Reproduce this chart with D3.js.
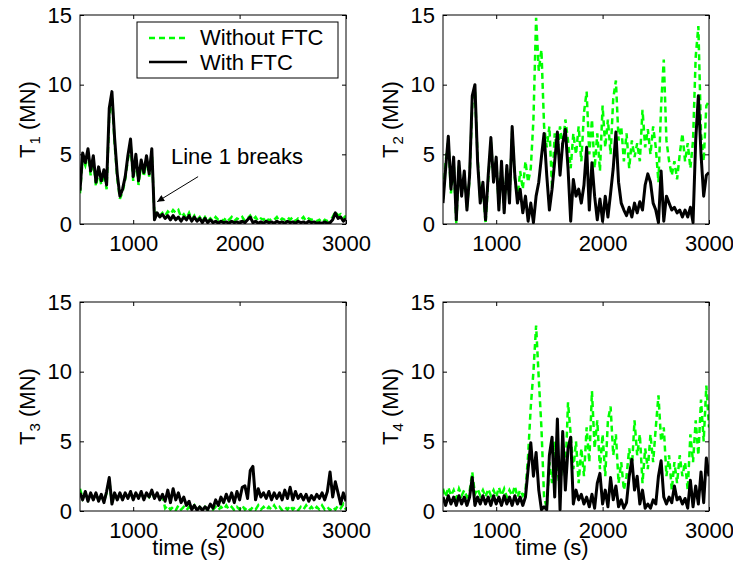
<!DOCTYPE html>
<html>
<head>
<meta charset="utf-8">
<script src="https://cdn.jsdelivr.net/npm/d3@7"></script>
<style>
  body { margin: 0; background: #fff; }
  text { font-family: "Liberation Sans", Arial, Helvetica, sans-serif; fill: #000; }
</style>
</head>
<body>
<div id="chart"></div>
<script>
// sample times (s)
const time = [500,525,550,575,600,625,650,675,700,725,750,775,800,825,850,875,900,925,950,975,
  1000,1025,1050,1075,1100,1125,1150,1175,1200,1225,1250,1275,1300,1325,1350,1375,1400,1425,1450,1475,
  1500,1525,1550,1575,1600,1625,1650,1675,1700,1725,1750,1775,1800,1825,1850,1875,1900,1925,1950,1975,
  2000,2025,2050,2075,2100,2125,2150,2175,2200,2225,2250,2275,2300,2325,2350,2375,2400,2425,2450,2475,
  2500,2525,2550,2575,2600,2625,2650,2675,2700,2725,2750,2775,2800,2825,2850,2875,2900,2925,2950,2975,3000]

const xTicks = [1000, 2000, 3000]
const yTicks = [0, 5, 10, 15]

// T1
const t1Without = [2.2,4.7,4.2,5.0,3.5,4.6,2.7,3.8,2.8,3.6,2.5,7.8,9.2,5.8,3.3,1.8,2.3,3.2,4.6,5.8,
  3.1,4.7,2.8,4.3,3.4,4.6,3.4,5.1,0.5,0.9,0.6,0.8,0.6,0.9,0.7,1.0,0.8,1.0,0.5,0.7,
  0.4,0.8,0.3,0.6,0.3,0.5,0.2,0.5,0.2,0.4,0.2,0.5,0.3,0.4,0.2,0.5,0.3,0.5,0.2,0.4,
  0.3,0.5,0.2,0.4,0.6,0.3,0.5,0.2,0.4,0.3,0.5,0.2,0.4,0.3,0.5,0.2,0.4,0.3,0.5,0.3,
  0.5,0.2,0.4,0.3,0.5,0.2,0.4,0.3,0.4,0.2,0.3,0.1,0.3,0.2,0.3,0.5,0.9,0.6,0.7,0.4,0.6]
const t1With = [2.4,5.1,4.4,5.4,3.8,4.9,3.0,4.1,3.1,3.9,2.8,8.3,9.5,6.2,3.6,2.0,2.5,3.4,4.9,6.1,
  3.4,5.0,3.1,4.6,3.7,4.9,3.6,5.4,0.3,0.8,0.5,0.7,0.4,0.6,0.3,0.6,0.3,0.5,0.2,0.5,
  0.3,0.6,0.2,0.5,0.2,0.4,0.1,0.4,0.1,0.3,0.1,0.2,0.05,0.2,0.1,0.15,0.05,0.2,0.1,0.15,
  0.05,0.2,0.1,0.3,0.5,0.1,0.2,0.05,0.15,0.05,0.2,0.1,0.15,0.05,0.2,0.1,0.15,0.05,0.2,0.1,
  0.15,0.05,0.2,0.1,0.15,0.05,0.2,0.1,0.15,0.05,0.1,0.05,0.15,0.05,0.1,0.3,0.8,0.4,0.5,0.2,0.4]

// T2
const t2Without = [1.8,4.5,6.0,2.2,4.5,0.0,4.2,2.3,3.5,1.2,3.2,8.6,9.6,4.8,1.8,2.7,0.0,3.2,5.9,3.3,
  4.5,1.3,4.2,1.0,4.0,1.8,6.7,3.3,1.8,3.8,2.5,4.5,3.0,4.0,7.5,14.8,11.0,12.5,7.0,5.5,
  7.0,2.5,6.5,5.0,7.0,5.5,7.5,6.0,4.0,6.5,5.0,7.0,4.5,8.0,9.5,5.0,7.5,4.0,6.5,3.8,
  8.5,5.5,7.5,5.0,9.0,10.3,6.0,7.0,4.5,6.5,4.0,6.0,4.8,5.8,4.5,8.2,5.5,6.8,5.0,7.0,
  5.5,3.0,8.5,11.8,6.0,4.5,3.5,4.5,3.2,5.0,6.5,4.5,5.8,4.0,6.0,12.0,14.2,6.5,4.5,8.5,8.8]
const t2With = [1.5,4.0,6.3,2.5,4.8,0.3,4.5,2.0,3.8,1.0,3.5,9.2,10.0,4.5,1.5,3.0,0.3,3.5,6.2,3.0,
  4.8,1.0,4.5,0.8,4.2,1.5,7.0,3.5,1.5,2.5,0.8,2.0,0.2,1.5,0.1,2.0,3.0,4.8,6.5,3.5,
  1.0,2.5,4.5,6.6,3.5,5.8,6.8,4.0,0.2,3.2,2.0,2.5,1.5,2.8,5.5,1.0,4.4,2.0,0.3,1.8,
  0.2,2.0,0.5,2.2,4.0,6.6,3.0,1.5,1.0,0.6,1.2,0.5,1.5,0.8,1.6,1.0,2.8,3.6,3.0,1.5,
  1.0,0.1,3.8,0.2,2.0,1.5,1.0,1.2,0.8,1.0,0.5,1.0,0.5,1.2,0.1,6.0,9.2,5.0,2.0,3.5,3.7]

// T3
const t3Without = [1.6,0.9,1.3,0.8,1.2,0.9,1.2,0.8,1.1,0.7,1.3,2.2,0.6,1.2,0.9,1.2,0.9,1.2,1.0,1.3,
  0.9,1.2,1.0,1.3,0.9,1.2,1.0,1.4,0.9,1.2,0.9,1.1,0.2,0.4,0.1,0.3,0.05,0.4,0.1,0.3,
  0.05,0.3,0.1,0.4,0.05,0.3,0.1,0.3,0.05,0.2,0.1,0.3,0.05,0.3,0.1,0.4,0.1,0.3,0.05,0.3,
  0.1,0.4,0.1,0.3,0.05,0.3,0.1,0.4,0.1,0.3,0.05,0.3,0.1,0.4,0.1,0.3,0.05,0.3,0.1,0.4,
  0.1,0.3,0.05,0.3,0.1,0.4,0.1,0.3,0.05,0.3,0.1,0.4,0.1,0.3,0.05,0.3,0.1,0.4,0.2,0.5,0.1]
const t3With = [1.3,0.8,1.4,0.7,1.3,0.8,1.3,0.7,1.2,0.6,1.4,2.4,0.5,1.3,0.8,1.3,0.8,1.3,0.9,1.4,
  0.8,1.3,0.9,1.4,0.8,1.3,1.0,1.5,0.9,1.3,0.8,1.2,0.7,1.5,0.6,1.6,0.8,1.3,0.6,1.0,
  0.4,0.7,0.1,0.4,0.05,0.3,0.05,0.3,0.1,0.5,0.2,0.8,0.4,1.0,0.6,1.2,0.7,1.3,0.6,1.4,
  0.8,1.7,1.8,0.9,2.9,3.2,0.8,1.6,1.0,1.3,0.9,1.4,0.8,1.3,0.9,1.3,0.8,1.5,0.9,1.7,
  0.8,1.4,0.9,1.2,0.8,1.2,0.7,1.1,0.8,1.2,0.9,1.3,0.8,1.4,2.8,1.0,2.1,1.3,0.5,1.3,0.7]

// T4
const t4Without = [1.6,1.0,1.7,1.1,1.5,0.9,1.6,1.1,1.5,1.0,1.4,2.8,1.2,1.6,1.1,1.5,1.0,1.6,1.1,1.5,
  1.0,1.7,1.1,1.6,1.0,1.5,1.1,1.8,1.0,1.5,1.1,1.4,4.0,7.5,10.0,13.3,9.5,6.0,1.0,0.2,
  3.5,2.0,5.0,3.0,1.5,4.0,2.5,7.8,5.5,3.0,5.0,2.0,4.5,2.5,6.0,3.5,8.6,4.5,6.5,3.0,
  5.5,2.5,6.5,7.5,4.0,5.5,2.0,3.5,1.5,2.5,4.5,3.0,6.5,4.0,5.5,2.0,4.5,3.0,5.5,3.5,
  6.0,8.3,5.0,6.0,2.5,4.0,1.5,3.5,2.0,4.0,2.5,3.5,1.5,5.5,3.5,6.5,4.0,8.0,5.0,9.0,6.0]
const t4With = [1.0,0.4,1.1,0.5,1.0,0.4,1.1,0.5,1.0,0.4,1.0,2.4,0.4,1.0,0.5,1.1,0.5,1.0,0.4,1.1,
  0.5,1.0,0.4,1.1,0.5,1.0,0.4,1.1,0.5,1.0,0.4,1.0,3.0,4.9,2.5,4.2,1.5,0.1,0.3,0.1,
  4.0,5.3,1.0,6.6,0.1,5.7,1.5,4.5,5.3,0.5,1.5,0.8,1.2,0.5,1.0,0.3,1.2,0.2,2.0,2.7,
  0.5,1.5,0.3,2.4,0.8,1.8,0.3,0.8,0.2,0.6,2.5,3.7,1.5,2.5,0.5,1.5,0.2,0.5,0.2,0.8,
  0.5,2.5,3.6,1.0,0.5,1.0,0.6,1.8,0.8,1.0,0.5,0.9,0.2,2.2,0.3,1.8,0.5,2.8,0.6,3.8,2.5]

const panels = [
  { name: '1', without: t1Without, withFtc: t1With, col: 0, row: 0 },
  { name: '2', without: t2Without, withFtc: t2With, col: 1, row: 0 },
  { name: '3', without: t3Without, withFtc: t3With, col: 0, row: 1 },
  { name: '4', without: t4Without, withFtc: t4With, col: 1, row: 1 }
]

const W = 733, H = 569
const lefts = [80, 443], tops = [15, 302]
const pw = 266, ph = 209

const svg = d3.select('#chart').append('svg')
  .attr('width', W).attr('height', H)

const defs = svg.append('defs')
defs.append('marker')
  .attr('id', 'arrow')
  .attr('viewBox', '0 0 10 10')
  .attr('refX', 10).attr('refY', 5)
  .attr('markerWidth', 9).attr('markerHeight', 7)
  .attr('markerUnits', 'userSpaceOnUse')
  .attr('orient', 'auto')
  .append('path')
  .attr('d', 'M0,0 L10,5 L0,10 z')
  .attr('fill', '#000')

panels.forEach(function (p, k) {
  let x0 = lefts[p.col], y0 = tops[p.row]
  let g = svg.append('g').attr('transform', 'translate(' + x0 + ',' + y0 + ')')

  let x = d3.scaleLinear().domain([500, 3000]).range([0, pw])
  let y = d3.scaleLinear().domain([0, 15]).range([ph, 0])

  defs.append('clipPath').attr('id', 'clip' + k)
    .append('rect').attr('width', pw).attr('height', ph)

  let line = d3.line()
    .x((d, i) => x(time[i]))
    .y(d => y(d))

  let plot = g.append('g').attr('clip-path', 'url(#clip' + k + ')')
  plot.append('path')
    .datum(p.without)
    .attr('d', line)
    .attr('fill', 'none')
    .attr('stroke', '#00ff00')
    .attr('stroke-width', 2.5)
    .attr('stroke-dasharray', '6,4')
  plot.append('path')
    .datum(p.withFtc)
    .attr('d', line)
    .attr('fill', 'none')
    .attr('stroke', '#000')
    .attr('stroke-width', 3)
    .attr('stroke-linejoin', 'round')

  // axes, ticks inside like matlab
  let fmt = d3.format('d')
  let ax = [
    g.append('g').attr('transform', 'translate(0,' + ph + ')')
      .call(d3.axisBottom(x).tickValues(xTicks).tickSize(-4).tickPadding(11).tickFormat(fmt)),
    g.append('g').call(d3.axisTop(x).tickValues(xTicks).tickSize(-4).tickFormat('')),
    g.append('g').call(d3.axisLeft(y).tickValues(yTicks).tickSize(-4).tickPadding(8).tickFormat(fmt)),
    g.append('g').attr('transform', 'translate(' + pw + ',0)')
      .call(d3.axisRight(y).tickValues(yTicks).tickSize(-4).tickFormat(''))
  ]
  ax.forEach(a => {
    a.select('.domain').remove()
    a.selectAll('line').attr('stroke', '#000')
    a.selectAll('text').style('font-size', '22px')
      .style('font-family', '"Liberation Sans", Arial, sans-serif').attr('fill', '#000')
  })

  g.append('rect')
    .attr('width', pw).attr('height', ph)
    .attr('fill', 'none').attr('stroke', '#000').attr('stroke-width', 1)

  // y label
  let yl = g.append('text')
    .attr('transform', 'translate(-45,' + (ph / 2) + ') rotate(-90)')
    .attr('text-anchor', 'middle')
    .style('font-size', '22px')
  yl.append('tspan').text('T')
  yl.append('tspan').text(p.name).attr('dy', 5).style('font-size', '15px')
  yl.append('tspan').text(' (MN)').attr('dy', -5)

  if (p.row == 1) {
    g.append('text')
      .attr('x', pw / 2 - 24).attr('y', 253)
      .attr('text-anchor', 'middle')
      .style('font-size', '22px')
      .text('time (s)')
  }

  if (k == 0) {
    // legend
    let lg = g.append('g').attr('transform', 'translate(57,7)')
    lg.append('rect').attr('width', 201).attr('height', 56)
      .attr('fill', '#fff').attr('stroke', '#000')
    lg.append('line').attr('x1', 12).attr('x2', 50).attr('y1', 16).attr('y2', 16)
      .attr('stroke', '#00ff00').attr('stroke-width', 2.5).attr('stroke-dasharray', '6,4')
    lg.append('line').attr('x1', 12).attr('x2', 50).attr('y1', 40).attr('y2', 40)
      .attr('stroke', '#000').attr('stroke-width', 2.5)
    lg.append('text').attr('x', 63).attr('y', 23).style('font-size', '22px').text('Without FTC')
    lg.append('text').attr('x', 63).attr('y', 48).style('font-size', '22px').text('With FTC')

    // annotation
    g.append('text').attr('x', x(1355)).attr('y', y(4.3))
      .style('font-size', '22px').text('Line 1 breaks')
    g.append('line')
      .attr('x1', x(1610)).attr('y1', y(3.4))
      .attr('x2', x(1225)).attr('y2', y(1.6))
      .attr('stroke', '#000').attr('stroke-width', 1)
      .attr('marker-end', 'url(#arrow)')
  }
})
</script>
</body>
</html>
